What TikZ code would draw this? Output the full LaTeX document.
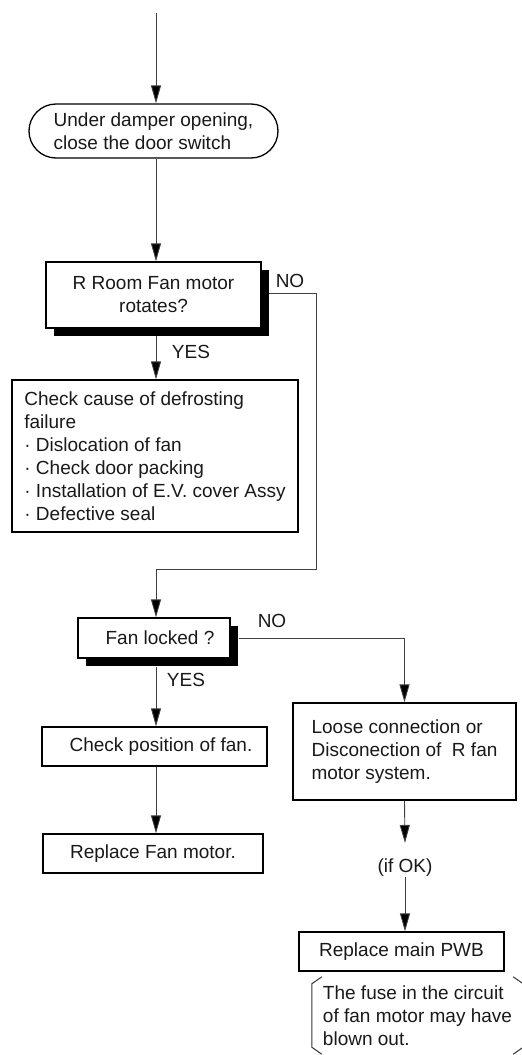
\documentclass[tikz,border=0pt]{standalone}
\usepackage{fontspec}
\setmainfont{Liberation Sans}
\usetikzlibrary{arrows.meta,shadows,calc}
\begin{document}
\begin{tikzpicture}[x=1pt,y=-1pt,
  every node/.style={font=\fontsize{19}{23}\selectfont, text=black!90},
  box/.style={draw=black, line width=1.3pt, fill=white, inner sep=0pt},
  shadowed/.style={drop shadow={shadow xshift=7.5pt,shadow yshift=-7.5pt,fill=black,opacity=1}},
  arr/.style={draw=black!75, line width=0.9pt, -{Triangle[length=18pt,width=10pt,fill=black]}},
  lbl/.style={inner sep=0pt},
  bracket/.style={draw=black!80, line width=1pt}]
\useasboundingbox (0,0) rectangle (522,1055);

\coordinate (top) at (156,13);
\coordinate (n1) at (316,569);

\node[box, rounded corners=27pt, minimum width=249pt, minimum height=54pt, align=left] (start) at (153.5,131) {Under damper opening,\\close the door switch};
\node[box, shadowed, minimum width=215pt, minimum height=66pt, align=center] (q1) at (153.5,295) {R Room Fan motor\\rotates?};
\node[box, minimum width=286pt, minimum height=152pt, align=left] (chk1) at (155,456) {Check cause of defrosting\\failure\\· Dislocation of fan\\· Check door packing\\· Installation of E.V. cover Assy\\· Defective seal};
\node[box, shadowed, minimum width=152pt, minimum height=40pt] (q2) at (154,638) {\hspace*{12pt}Fan locked ?};
\node[box, minimum width=225pt, minimum height=39pt] (chk2) at (154.5,746.5) {\hspace*{13pt}Check position of fan.};
\node[box, minimum width=220pt, minimum height=39pt] (rep) at (153,853.5) {Replace Fan motor.};
\node[box, minimum width=223pt, minimum height=97pt, align=left] (loose) at (404.5,751.5) {Loose connection or\\Disconection of\ \ R fan\hspace*{12pt}\\motor system.};
\node[lbl] (ifok) at (405,868) {(if OK)};
\node[box, minimum width=205pt, minimum height=39pt] (pwb) at (401.5,951.5) {Replace main PWB};
\node[minimum width=211pt, inner sep=0pt, minimum height=77pt, align=left] (note) at (417.5,1015.5) {The fuse in the circuit\hspace*{6pt}\\of fan motor may have\\blown out.};

\node[lbl] (no1) at (290,281) {NO};
\node[lbl] (yes1) at (191,352) {YES};
\node[lbl] (no2) at (272,621) {NO};
\node[lbl] (yes2) at (186,680) {YES};

\draw[arr] (top) -- (top |- start.north);
\draw[arr] (top |- start.south) -- (top |- q1.north);
\draw[arr] ($(q1.south -| top)+(0,7.5)$) -- (top |- chk1.north);
\draw[arr] ($(q1.east)+(7.5,-2)$) -| (n1) -| (top |- q2.north);
\draw[arr] ($(q2.south -| top)+(0,8)$) -- (top |- chk2.north);
\draw[arr] ($(q2.east)+(8,0)$) -| (loose.north);
\draw[arr] (top |- chk2.south) -- (top |- rep.north);
\draw[arr] (loose.south) -- ([yshift=16pt]ifok.north);
\draw[arr] (ifok.south) -- (ifok.south |- pwb.north);

\draw[bracket] ([xshift=10pt]note.north west) -- ([yshift=-7pt]note.north west) -- ([yshift=7pt]note.south west) -- ([xshift=10pt]note.south west);
\draw[bracket] ([xshift=-10pt]note.north east) -- ([yshift=-7pt]note.north east) -- ([yshift=7pt]note.south east) -- ([xshift=-10pt]note.south east);
\end{tikzpicture}
\end{document}
